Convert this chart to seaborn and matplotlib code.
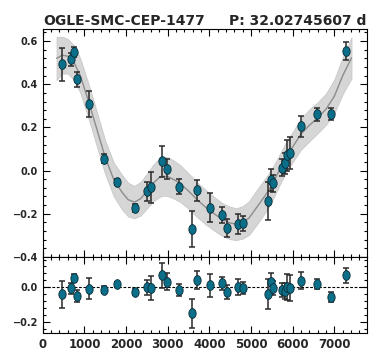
import matplotlib
matplotlib.use('Agg')
import matplotlib.pyplot as plt
from matplotlib.path import Path
from matplotlib.ticker import MultipleLocator, AutoMinorLocator
import numpy as np
import pandas as pd
import seaborn as sns

# observations
t_obs = [470, 671, 757, 815, 1103, 1477, 1782, 2206, 2508, 2604, 2861, 2974, 3276, 3588, 3700, 4005,
         4307, 4420, 4683, 4796, 5396, 5468, 5523, 5746, 5811, 5866, 5923, 6187, 6585, 6914, 7290]
mag = [0.492, 0.515, 0.550, 0.423, 0.308, 0.056, -0.053, -0.173, -0.096, -0.078, 0.043, 0.008, -0.074,
       -0.270, -0.092, -0.172, -0.206, -0.267, -0.247, -0.245, -0.140, -0.043, -0.059, 0.014, 0.033,
       0.070, 0.082, 0.206, 0.260, 0.262, 0.555]
err = [0.077, 0.031, 0.024, 0.036, 0.060, 0.020, 0.015, 0.019, 0.043, 0.070, 0.073, 0.048, 0.034, 0.082,
       0.050, 0.067, 0.039, 0.041, 0.047, 0.033, 0.089, 0.052, 0.040, 0.041, 0.047, 0.074, 0.075, 0.048,
       0.029, 0.029, 0.043]
resid = [-0.042, -0.006, 0.054, -0.053, -0.009, -0.015, 0.017, -0.029, 0.0, -0.004, 0.069, 0.031, -0.017,
         -0.152, 0.042, 0.011, 0.021, -0.029, 0.0, -0.006, -0.040, 0.029, -0.006, -0.015, -0.023, 0.0,
         -0.006, 0.037, 0.017, -0.057, 0.069]

# model curve + uncertainty band
curve_t = [330, 470, 600, 750, 900, 1100, 1300, 1500, 1700, 1900, 2050, 2200, 2350, 2500, 2650, 2800,
           2900, 3000, 3150, 3300, 3500, 3700, 3900, 4100, 4300, 4500, 4650, 4800, 4950, 5100, 5250,
           5400, 5550, 5700, 5850, 6000, 6200, 6400, 6600, 6800, 7000, 7200, 7410]
curve_m = [0.52, 0.535, 0.53, 0.50, 0.44, 0.32, 0.19, 0.06, -0.04, -0.10, -0.135, -0.146, -0.13, -0.095,
           -0.058, -0.032, -0.026, -0.028, -0.042, -0.060, -0.095, -0.134, -0.168, -0.198, -0.226,
           -0.243, -0.248, -0.240, -0.220, -0.18, -0.14, -0.098, -0.048, 0.01, 0.065, 0.11, 0.17, 0.21,
           0.245, 0.285, 0.345, 0.44, 0.522]
curve_sig = [0.10, 0.085, 0.08, 0.08, 0.08, 0.08, 0.08, 0.078, 0.078, 0.08, 0.078, 0.075, 0.078, 0.08,
             0.085, 0.09, 0.09, 0.09, 0.088, 0.085, 0.082, 0.08, 0.08, 0.078, 0.076, 0.075, 0.074, 0.075,
             0.078, 0.08, 0.08, 0.078, 0.074, 0.07, 0.07, 0.07, 0.072, 0.074, 0.072, 0.072, 0.078, 0.085,
             0.095]

star = 'OGLE-SMC-CEP-1477'
period = 'P: 32.02745607 d'

sns.set_style('ticks')
plt.rcParams['font.family'] = ['DejaVu Sans']
plt.rcParams['font.weight'] = 'bold'

df = pd.DataFrame({'t': t_obs, 'mag': mag, 'err': err, 'resid': resid})
model = pd.DataFrame({'t': curve_t, 'm': curve_m, 's': curve_sig})

# slightly tall ellipse markers
th = np.linspace(0, 2 * np.pi, 40)
ell = Path(np.column_stack([0.75 * np.cos(th), np.sin(th)]))

fig = plt.figure(figsize=(3.79, 3.63), dpi=100)
gs = fig.add_gridspec(2, 1, height_ratios=[3, 1], hspace=0,
                      left=0.113, right=0.968, top=0.92, bottom=0.083)
ax = fig.add_subplot(gs[0])
axr = fig.add_subplot(gs[1], sharex=ax)

ax.fill_between(model.t, model.m - model.s, model.m + model.s, color='#d6d6d6', lw=0.6,
                edgecolor='#c8c8c8', zorder=1)
sns.lineplot(data=model, x='t', y='m', ax=ax, color='#8c8c8c', lw=1.0, zorder=2)
ax.errorbar(df.t, df.mag, yerr=df.err, fmt='none', ecolor='#2a2a2a', elinewidth=1.1,
            capsize=2.5, capthick=1.1, zorder=3)
ax.plot(df.t, df.mag, ls='none', marker=ell, ms=7, mfc='#0b6f8a', mec='#0a2a33', mew=0.6, zorder=4)

axr.axhline(0, color='black', ls='--', lw=0.8, dashes=(2.5, 1.5), zorder=1)
axr.errorbar(df.t, df.resid, yerr=df.err, fmt='none', ecolor='#2a2a2a', elinewidth=1.1,
             capsize=2.5, capthick=1.1, zorder=3)
axr.plot(df.t, df.resid, ls='none', marker=ell, ms=7, mfc='#0b6f8a', mec='#0a2a33', mew=0.6, zorder=4)

ax.set_xlim(0, 7780)
ax.set_ylim(-0.4, 0.656)
axr.set_ylim(-0.265, 0.175)

for a in (ax, axr):
    a.set_xlabel('')
    a.set_ylabel('')
    a.xaxis.set_major_locator(MultipleLocator(1000))
    a.xaxis.set_minor_locator(AutoMinorLocator(5))
    a.yaxis.set_major_locator(MultipleLocator(0.2))
    a.yaxis.set_minor_locator(AutoMinorLocator(5))
    a.tick_params(which='both', direction='in', top=True, right=True, width=0.8, color='black')
    a.tick_params(which='major', length=5)
    a.tick_params(which='minor', length=2.5)
    for s in a.spines.values():
        s.set_linewidth(0.8)
        s.set_color('black')
    for lbl in a.get_yticklabels():
        lbl.set_fontsize(7)
        lbl.set_fontweight('bold')

ax.tick_params(axis='x', labelbottom=False)
for lbl in axr.get_xticklabels():
    lbl.set_fontsize(8.5)
    lbl.set_fontweight('bold')

ax.set_title(star, loc='left', fontsize=10, fontweight='bold', pad=3)
ax.set_title(period, loc='right', fontsize=10, fontweight='bold', pad=3)

fig.savefig('out.png', dpi=100)
